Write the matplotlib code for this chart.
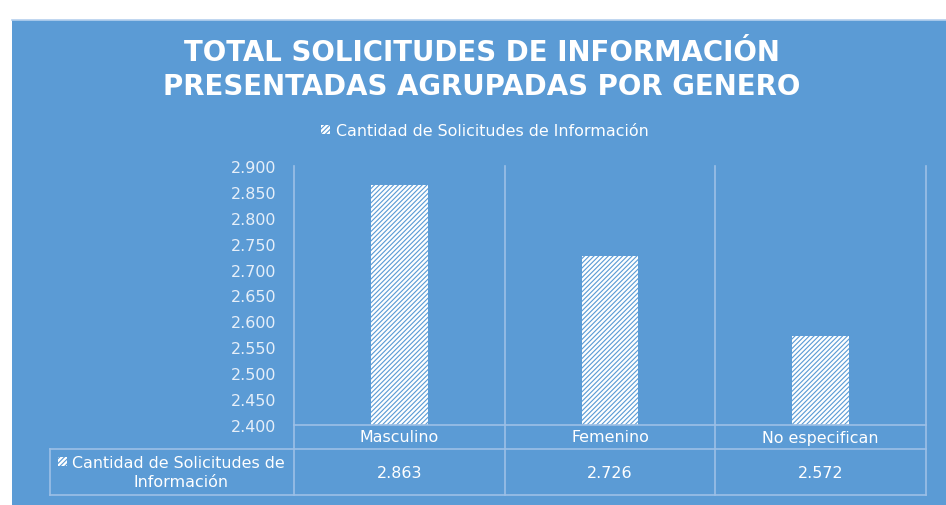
import matplotlib
matplotlib.use("Agg")
import matplotlib.pyplot as plt
import matplotlib.transforms as mtransforms
from matplotlib.lines import Line2D
from matplotlib.patches import Rectangle

categories = ["Masculino", "Femenino", "No especifican"]
values = [2.863, 2.726, 2.572]
series_name = "Cantidad de Solicitudes de Información"
title_lines = ["TOTAL SOLICITUDES DE INFORMACIÓN", "PRESENTADAS AGRUPADAS POR GENERO"]
y_ticks = [2.40, 2.45, 2.50, 2.55, 2.60, 2.65, 2.70, 2.75, 2.80, 2.85, 2.90]

BG = "#5B9BD5"
GRID = "#9DC0E6"
TXT = "#FFFFFF"
TICK = "#E6EFF9"
W, H = 946, 506
FS = 11.4
HATCH = "///////"

plt.rcParams["font.family"] = ["DejaVu Sans"]
plt.rcParams["hatch.linewidth"] = 1.6


def fx(px):
    return px / W


def fy(py):
    return 1 - py / H


fig = plt.figure(figsize=(W / 100, H / 100), dpi=100)
fig.patch.set_facecolor("white")

# blue panel
fig.add_artist(Rectangle((fx(12), 0), 1 - fx(12), fy(21), transform=fig.transFigure,
                         facecolor=BG, edgecolor="none", zorder=0))
fig.add_artist(Line2D([fx(12), 1], [fy(21), fy(21)], transform=fig.transFigure,
                      color="#B5D0EE", lw=1.2, zorder=1))

# title
fig.text(fx(482), fy(53), title_lines[0], ha="center", va="center", color=TXT,
         fontsize=19.9, fontweight="bold")
fig.text(fx(482), fy(87), title_lines[1], ha="center", va="center", color=TXT,
         fontsize=19.9, fontweight="bold")

# legend
fig.add_artist(Rectangle((fx(321), fy(135)), fx(9), 9 / H, transform=fig.transFigure,
                         facecolor="none", edgecolor="white", lw=0, hatch=HATCH))
fig.text(fx(336), fy(131), series_name, ha="left", va="center", color=TXT, fontsize=FS)

# plot area
ax_left, ax_right, ax_top, ax_bot = 294, 926, 167, 426
ax = fig.add_axes([fx(ax_left), fy(ax_bot), fx(ax_right) - fx(ax_left), (ax_bot - ax_top) / H])
ax.set_facecolor("none")
for s in ax.spines.values():
    s.set_visible(False)
ax.set_xlim(-0.5, len(categories) - 0.5)
ax.set_ylim(y_ticks[0], y_ticks[-1])
ax.set_xticks([])
ax.set_yticks(y_ticks)
ax.set_yticklabels([f"{v:.3f}" for v in y_ticks])
ax.tick_params(axis="y", length=0, pad=13, labelsize=FS, labelcolor=TICK)

ax.bar(range(len(categories)), values, width=0.27, facecolor="none",
       edgecolor="white", linewidth=0, hatch=HATCH, zorder=2)

# table and grid lines
tr = mtransforms.blended_transform_factory(ax.transData, ax.transAxes)
ah = ax_bot - ax_top
row2 = -(496 - ax_bot) / ah
for i in range(len(categories)):
    xb = i + 0.5
    ax.plot([xb, xb], [1, row2], transform=tr, color=GRID, lw=1.2, clip_on=False)
ax.plot([-0.5, -0.5], [1, row2], transform=tr, color=GRID, lw=1.2, clip_on=False)
ax.plot([-0.5, len(categories) - 0.5], [0, 0], transform=tr, color=GRID, lw=1.2, clip_on=False)

fig.add_artist(Line2D([fx(50), fx(926)], [fy(450), fy(450)], transform=fig.transFigure, color=GRID, lw=1.2))
fig.add_artist(Line2D([fx(50), fx(926)], [fy(496), fy(496)], transform=fig.transFigure, color=GRID, lw=1.2))
fig.add_artist(Line2D([fx(50), fx(50)], [fy(450), fy(496)], transform=fig.transFigure, color=GRID, lw=1.2))

for i, (c, v) in enumerate(zip(categories, values)):
    ax.text(i, -(438 - ax_bot) / ah, c, transform=tr, ha="center", va="center",
            color=TXT, fontsize=FS)
    ax.text(i, -(473 - ax_bot) / ah, f"{v:.3f}", transform=tr, ha="center", va="center",
            color=TXT, fontsize=FS)

# row header
fig.add_artist(Rectangle((fx(58), fy(467)), fx(9), 9 / H, transform=fig.transFigure,
                         facecolor="none", edgecolor="white", lw=0, hatch=HATCH))
fig.text(fx(72), fy(463), "Cantidad de Solicitudes de", ha="left", va="center",
         color=TXT, fontsize=FS)
fig.text(fx(181), fy(483), "Información", ha="center", va="center",
         color=TXT, fontsize=FS)

fig.savefig("out.png", dpi=100, facecolor=fig.get_facecolor())
